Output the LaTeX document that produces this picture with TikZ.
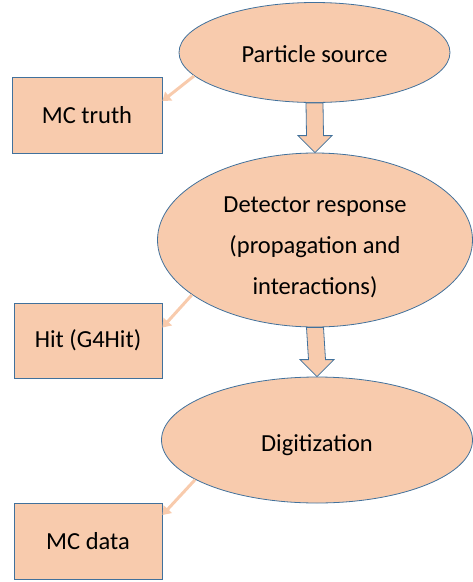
\documentclass[tikz,border=0pt]{standalone}
\usepackage{fontspec}
\setmainfont{Carlito}
\usetikzlibrary{shapes.geometric,arrows.meta,calc}
\definecolor{peach}{HTML}{F8CBAD}
\definecolor{edgeblue}{HTML}{41719C}
\tikzset{
  stage/.style={ellipse, draw=edgeblue, line width=0.8pt, fill=peach, inner sep=0pt,
    align=center, font=\fontsize{24.5}{41}\selectfont},
  outbox/.style={rectangle, draw=edgeblue, line width=0.8pt, fill=peach, inner sep=0pt,
    font=\fontsize{24.5}{29}\selectfont},
  blockarrow/.style={draw=edgeblue, line width=0.8pt, fill=peach, line join=miter},
  sidearrow/.style={draw=peach, line width=3pt, -{Triangle[width=11pt,length=8pt]}}
}
\begin{document}
\begin{tikzpicture}[x=1pt,y=-1pt]
\useasboundingbox (0,0) rectangle (473,582);
\node[stage, minimum width=271pt, minimum height=100pt] (e1) at (314.5,52.5) {\rule{0pt}{21pt}Particle source};
\node[stage, minimum width=315pt, minimum height=174pt] (e2) at (315,240) {\rule{0pt}{31pt}Detector response\\(propagation and\\interactions)};
\node[stage, minimum width=311pt, minimum height=126pt] (e3) at (317,440) {\rule{0pt}{27pt}Digitization};
\node[outbox, minimum width=150pt, minimum height=76pt] (b1) at (87,115) {MC truth};
\node[outbox, minimum width=148pt, minimum height=75pt] (b2) at (88,340.5) {Hit (G4Hit)};
\node[outbox, minimum width=148pt, minimum height=76pt] (b3) at (88,541) {MC data};
% block arrows
\draw[blockarrow] ($(e1.south)+(-8.5,0)$) -- ($(e1.south)+(8.5,0)$)
  -- ($(e2.north)+(8.5,-17)$) -- ($(e2.north)+(17,-17)$) -- (e2.north)
  -- ($(e2.north)+(-17,-17)$) -- ($(e2.north)+(-8.5,-17)$) -- cycle;
\draw[blockarrow] ($(e2.south)+(-8.5,0)$) -- ($(e2.south)+(8.5,0)$)
  -- ($(e3.north)+(8.5,-17)$) -- ($(e3.north)+(17,-17)$) -- (e3.north)
  -- ($(e3.north)+(-17,-17)$) -- ($(e3.north)+(-8.5,-17)$) -- cycle;
% side arrows
\coordinate (t1) at ($(b1.east)+(0,-14)$);
\coordinate (t2) at ($(b2.east)+(0,-13)$);
\coordinate (t3) at ($(b3.east)+(0,-26)$);
\draw[sidearrow] (e1.191) -- (t1);
\draw[sidearrow] (e2.204) -- (t2);
\draw[sidearrow] (e3.198) -- (t3);
\end{tikzpicture}
\end{document}
